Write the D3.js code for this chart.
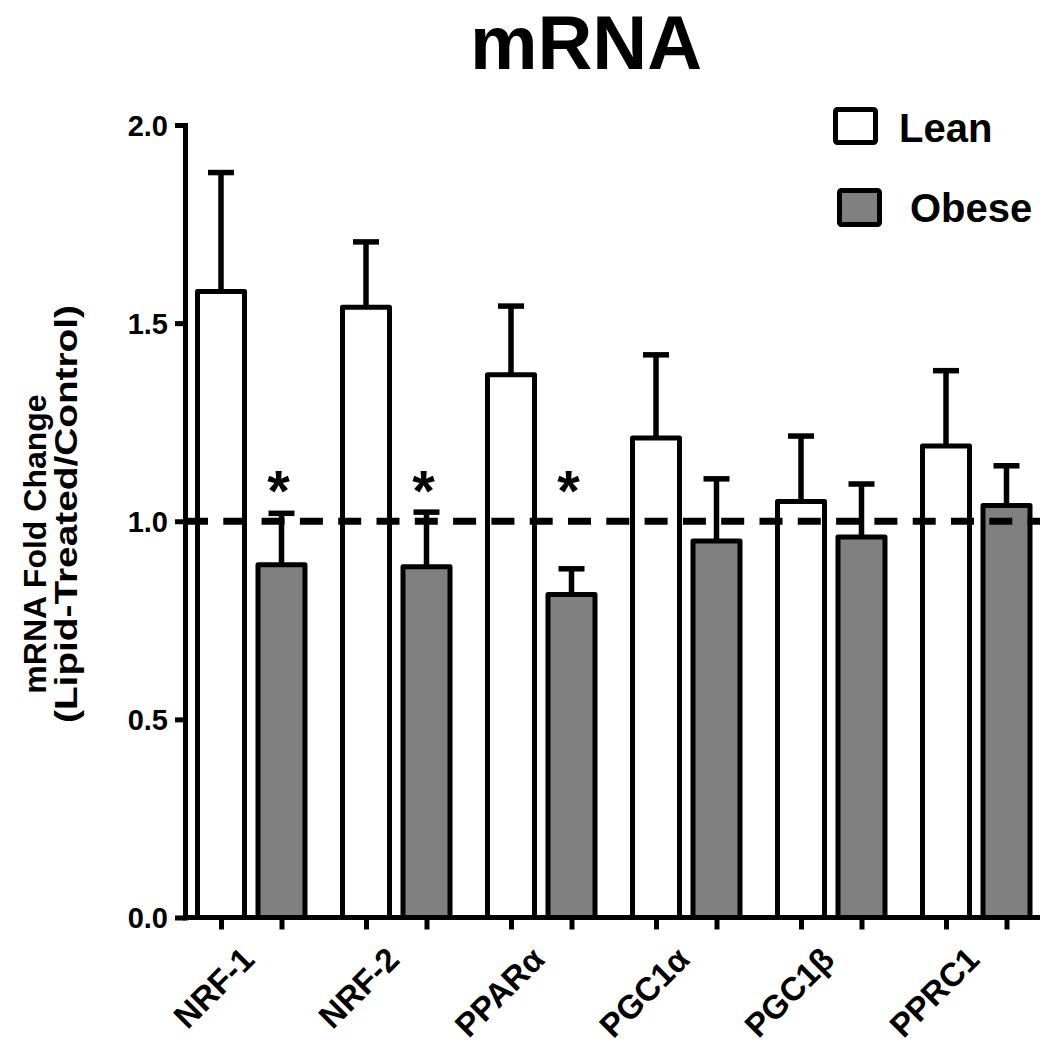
<!DOCTYPE html>
<html>
<head>
<meta charset="utf-8">
<script src="https://cdn.jsdelivr.net/npm/d3@7"></script>
<style>
  html, body { margin: 0; padding: 0; background: #fff; }
  svg { display: block; }
  text { font-family: "Liberation Sans", Arial, Helvetica, sans-serif; font-weight: bold; fill: #000; }
</style>
</head>
<body>
<svg id="chart" width="1040" height="1045"></svg>
<script>
// Genes measured and the two groups compared
const genes = ["NRF-1", "NRF-2", "PPAR\u03b1", "PGC1\u03b1", "PGC1\u03b2", "PPRC1"];
const groups = ["Lean", "Obese"];

// Mean fold change (lipid-treated / control) and SEM per group
const leanMean = [1.58, 1.54, 1.37, 1.21, 1.05, 1.19];
const leanSem  = [0.30, 0.165, 0.173, 0.21, 0.165, 0.19];
const obeseMean = [0.89, 0.885, 0.815, 0.95, 0.96, 1.04];
const obeseSem  = [0.13, 0.138, 0.065, 0.157, 0.134, 0.10];

// Significant obese vs lean differences
const significant = [true, true, true, false, false, false];

const yTicks = [0, 0.5, 1.0, 1.5, 2.0];
const referenceLine = 1.0;

const fills = { Lean: "#ffffff", Obese: "#808080" };

const svg = d3.select("#chart");

const y = d3.scaleLinear().domain([0, 2]).range([917.5, 125]);
const x0 = d3.scaleBand().domain(genes).range([178.75, 1048.75]);
const x1 = d3.scaleBand().domain(groups).range([18.75, 126.25]).paddingInner(0.223);

const rows = genes.flatMap((g, i) => [
  { gene: g, group: "Lean", mean: leanMean[i], sem: leanSem[i] },
  { gene: g, group: "Obese", mean: obeseMean[i], sem: obeseSem[i] }
]);
const cx = d => x0(d.gene) + x1(d.group) + x1.bandwidth() / 2;

// Title
svg.append("text")
  .attr("x", 586).attr("y", 69)
  .attr("text-anchor", "middle")
  .style("font-size", "76px")
  .text("mRNA");

// Error bars (upper only)
const err = svg.append("g").attr("stroke", "#000").attr("stroke-width", 5.5);
err.selectAll("line.v").data(rows).join("line")
  .attr("class", "v")
  .attr("x1", cx).attr("x2", cx)
  .attr("y1", d => y(d.mean)).attr("y2", d => y(d.mean + d.sem));
err.selectAll("line.cap").data(rows).join("line")
  .attr("class", "cap")
  .attr("x1", d => cx(d) - 13).attr("x2", d => cx(d) + 13)
  .attr("y1", d => y(d.mean + d.sem)).attr("y2", d => y(d.mean + d.sem));

// Bars
svg.append("g").selectAll("rect").data(rows).join("rect")
  .attr("x", d => x0(d.gene) + x1(d.group))
  .attr("y", d => y(d.mean))
  .attr("width", x1.bandwidth())
  .attr("height", d => y(0) - y(d.mean))
  .attr("fill", d => fills[d.group])
  .attr("stroke", "#000")
  .attr("stroke-width", 5)
  .attr("stroke-linejoin", "round");

// Dashed reference line at fold change = 1
svg.append("line")
  .attr("x1", 185).attr("x2", 1040)
  .attr("y1", y(referenceLine)).attr("y2", y(referenceLine))
  .attr("stroke", "#000")
  .attr("stroke-width", 7)
  .attr("stroke-dasharray", "23 15.3");

// Significance asterisks
svg.append("g").selectAll("text").data(rows.filter(d => d.group === "Obese" && significant[genes.indexOf(d.gene)]))
  .join("text")
  .attr("x", d => cx(d) - 3)
  .attr("y", y(1.09) + 25)
  .attr("text-anchor", "middle")
  .style("font-size", "58px")
  .text("*");

// Y axis
const yAxis = svg.append("g")
  .attr("transform", "translate(185,0)")
  .call(d3.axisLeft(y).tickValues(yTicks).tickFormat(d3.format(".1f")).tickSize(10).tickSizeOuter(0).tickPadding(7));
yAxis.select(".domain").attr("stroke-width", 5).attr("stroke-linecap", "square");
yAxis.selectAll(".tick line").attr("stroke-width", 5);
yAxis.selectAll(".tick text").style("font-size", "29px").attr("dy", "0.36em");

// X axis baseline with a tick under every bar
const barKeys = rows.map(d => d.gene + "|" + d.group);
const xTick = d3.scaleOrdinal().domain(barKeys).range(rows.map(cx));
svg.append("line")
  .attr("x1", 183).attr("x2", 1040)
  .attr("y1", y(0)).attr("y2", y(0))
  .attr("stroke", "#000").attr("stroke-width", 5);
const xAxis = svg.append("g")
  .attr("transform", `translate(0,${y(0)})`)
  .call(d3.axisBottom(xTick).tickFormat("").tickSize(12).tickSizeOuter(0));
xAxis.select(".domain").remove();
xAxis.selectAll(".tick line").attr("stroke-width", 5);

// Gene labels, rotated
const xLab = svg.append("g")
  .attr("transform", `translate(0,${y(0)})`)
  .call(d3.axisBottom(x0).tickSize(0).tickPadding(0));
xLab.select(".domain").remove();
xLab.selectAll(".tick text")
  .style("font-size", "33px")
  .attr("text-anchor", "end")
  .attr("dy", 0)
  .attr("transform", "translate(5,44) rotate(-45)");

// Y axis title
svg.append("text")
  .attr("transform", "translate(46,544) rotate(-90)")
  .attr("text-anchor", "middle")
  .style("font-size", "32px")
  .text("mRNA Fold Change");
svg.append("text")
  .attr("transform", "translate(77,514) rotate(-90)")
  .attr("text-anchor", "middle")
  .attr("textLength", 418)
  .attr("lengthAdjust", "spacingAndGlyphs")
  .style("font-size", "32px")
  .text("(Lipid-Treated/Control)");

// Legend
const legend = [
  { group: "Lean", bx: 835.5, by: 109.5, bw: 40, bh: 33, tx: 899, ty: 142 },
  { group: "Obese", bx: 839.5, by: 190.5, bw: 40, bh: 34, tx: 910, ty: 222 }
];
const lg = svg.append("g");
lg.selectAll("rect").data(legend).join("rect")
  .attr("x", d => d.bx).attr("y", d => d.by)
  .attr("width", d => d.bw).attr("height", d => d.bh)
  .attr("rx", 2)
  .attr("fill", d => fills[d.group])
  .attr("stroke", "#000").attr("stroke-width", 5);
lg.selectAll("text").data(legend).join("text")
  .attr("x", d => d.tx).attr("y", d => d.ty)
  .style("font-size", "40px")
  .text(d => d.group);
</script>
</body>
</html>
